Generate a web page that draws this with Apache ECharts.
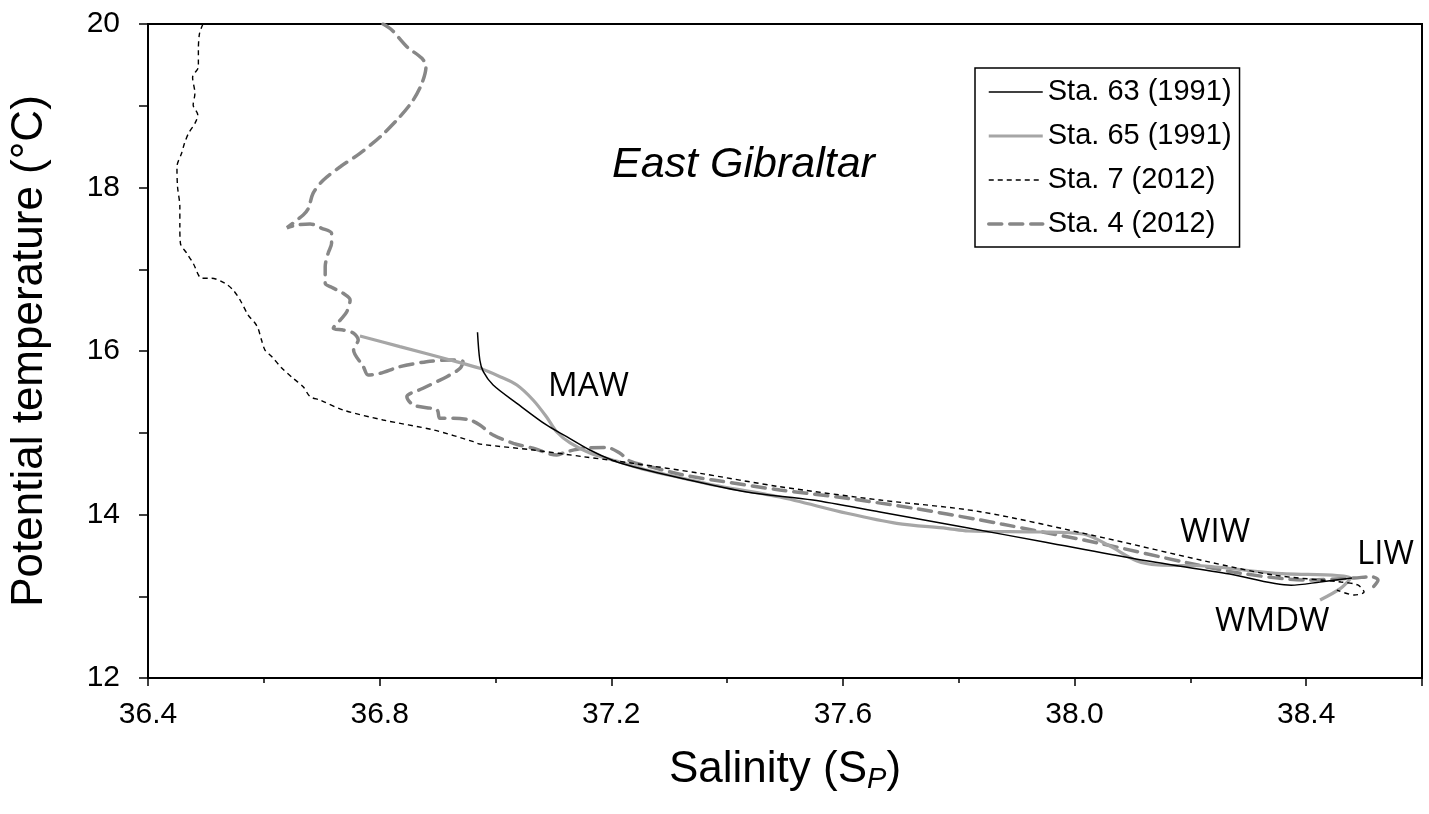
<!DOCTYPE html>
<html>
<head>
<meta charset="utf-8">
<script src="https://cdn.jsdelivr.net/npm/echarts@6/dist/echarts.min.js"></script>
<style>
  html, body { margin: 0; padding: 0; background: #fff; }
  #chart { width: 1429px; height: 814px; }
</style>
</head>
<body>
<div id="chart"></div>
<script>
// Theta-S profiles east of Gibraltar: [salinity, potential temperature]
const sta63_1991 = [
  [36.969, 16.23], [36.973, 15.89], [36.979, 15.747], [36.996, 15.584], [37.037, 15.36],
  [37.088, 15.095], [37.123, 14.952], [37.163, 14.789], [37.203, 14.661], [37.238, 14.585],
  [37.319, 14.447], [37.434, 14.275], [37.548, 14.177], [37.664, 14.03], [37.807, 13.847],
  [37.95, 13.66], [38.106, 13.456], [38.268, 13.272], [38.374, 13.135], [38.424, 13.174],
  [38.479, 13.223]
];
const sta65_1991 = [
  [36.766, 16.183], [36.835, 16.053], [36.922, 15.89], [36.973, 15.788], [37.008, 15.686],
  [37.037, 15.584], [37.065, 15.401], [37.088, 15.196], [37.106, 15.009], [37.129, 14.875],
  [37.163, 14.752], [37.209, 14.654], [37.261, 14.544], [37.353, 14.398], [37.376, 14.361],
  [37.491, 14.214], [37.607, 14.015], [37.693, 13.892], [37.779, 13.831], [37.816, 13.798],
  [37.94, 13.786], [38.015, 13.761], [38.061, 13.614], [38.108, 13.431], [38.144, 13.382],
  [38.225, 13.37], [38.343, 13.284], [38.477, 13.223], [38.46, 13.1], [38.424, 12.954]
];
const sta7_2012 = [
  [36.495, 20.0], [36.489, 19.886], [36.487, 19.682], [36.487, 19.478], [36.477, 19.348],
  [36.481, 19.152], [36.478, 19.009], [36.486, 18.887], [36.481, 18.785], [36.47, 18.663],
  [36.463, 18.541], [36.458, 18.418], [36.45, 18.254], [36.451, 18.01], [36.455, 17.765],
  [36.455, 17.52], [36.456, 17.317], [36.467, 17.195], [36.478, 17.073], [36.493, 16.889],
  [36.51, 16.889], [36.533, 16.828], [36.547, 16.746], [36.559, 16.624], [36.573, 16.44],
  [36.585, 16.339], [36.59, 16.278], [36.596, 16.135], [36.602, 16.012], [36.614, 15.93],
  [36.631, 15.792], [36.65, 15.67], [36.668, 15.563], [36.68, 15.441], [36.697, 15.401],
  [36.737, 15.278], [36.806, 15.156], [36.893, 15.034], [36.962, 14.891], [36.973, 14.862],
  [37.065, 14.789], [37.152, 14.707], [37.238, 14.626], [37.353, 14.504], [37.491, 14.34],
  [37.664, 14.177], [37.837, 14.034], [38.049, 13.717], [38.225, 13.431], [38.343, 13.26],
  [38.46, 13.174], [38.489, 13.138], [38.5, 13.052], [38.483, 13.015], [38.453, 13.076]
];
const sta4_2012 = [
  [36.806, 20.0], [36.821, 19.927], [36.847, 19.722], [36.873, 19.58], [36.88, 19.478],
  [36.873, 19.275], [36.858, 19.07], [36.835, 18.866], [36.801, 18.621], [36.766, 18.418],
  [36.732, 18.254], [36.703, 18.092], [36.685, 17.929], [36.677, 17.746], [36.668, 17.664],
  [36.64, 17.508], [36.657, 17.541], [36.68, 17.554], [36.7, 17.501], [36.717, 17.44],
  [36.717, 17.317], [36.711, 17.195], [36.706, 17.031], [36.706, 16.828], [36.717, 16.779],
  [36.737, 16.706], [36.749, 16.624], [36.743, 16.477], [36.732, 16.379], [36.72, 16.278],
  [36.737, 16.257], [36.755, 16.217], [36.763, 16.135], [36.755, 16.012], [36.772, 15.808],
  [36.78, 15.706], [36.801, 15.727], [36.835, 15.808], [36.881, 15.869], [36.922, 15.89],
  [36.944, 15.869], [36.939, 15.788], [36.916, 15.686], [36.875, 15.544], [36.847, 15.441],
  [36.858, 15.34], [36.899, 15.278], [36.904, 15.177], [36.927, 15.177], [36.956, 15.156],
  [36.973, 15.095], [36.996, 14.972], [37.031, 14.871], [37.065, 14.81], [37.106, 14.728],
  [37.123, 14.768], [37.152, 14.81], [37.192, 14.82], [37.215, 14.749], [37.232, 14.654],
  [37.267, 14.585], [37.324, 14.483], [37.376, 14.422], [37.491, 14.3], [37.607, 14.198],
  [37.722, 14.076], [37.837, 13.933], [37.874, 13.884], [38.038, 13.655], [38.196, 13.407],
  [38.284, 13.284], [38.401, 13.199], [38.483, 13.223], [38.512, 13.24], [38.524, 13.199],
  [38.507, 13.052]
];

const stationNames = ['Sta. 63 (1991)', 'Sta. 65 (1991)', 'Sta. 7 (2012)', 'Sta. 4 (2012)'];
const xTickLabels = ['36.4', '36.8', '37.2', '37.6', '38.0', '38.4'];
const yTickLabels = ['12', '14', '16', '18', '20'];

const FONT = '"Liberation Sans", Arial, sans-serif';
const ANNOT_FONT = '"Open Sans", "Noto Sans", sans-serif';

const chart = echarts.init(document.getElementById('chart'), null, { renderer: 'canvas' });

const axisLine = { show: true, lineStyle: { color: '#000', width: 2 } };

chart.setOption({
  animation: false,
  backgroundColor: '#fff',
  grid: {
    left: 148, right: 7, top: 24, bottom: 136,
    show: true, borderColor: '#000', borderWidth: 2, backgroundColor: 'transparent'
  },
  legend: {
    orient: 'vertical',
    left: 975, top: 68,
    padding: [9, 8, 8, 12],
    borderColor: '#000', borderWidth: 1.5,
    backgroundColor: '#fff',
    itemWidth: 54, itemHeight: 14, itemGap: 14,
    itemStyle: { opacity: 0 },
    lineStyle: { width: 'inherit', type: 'inherit' },
    textStyle: { fontFamily: FONT, fontSize: 29, color: '#000', lineHeight: 30 },
    data: stationNames
  },
  xAxis: [
    {
      type: 'value', min: 36.4, max: 38.6, interval: 0.2, position: 'bottom',
      axisLine: axisLine,
      axisTick: { show: true, inside: false, length: 5, lineStyle: { color: '#000', width: 1.5 } },
      axisLabel: { show: false },
      splitLine: { show: false }
    },
    {
      type: 'value', min: 36.4, max: 38.6, interval: 0.4, position: 'bottom',
      axisLine: { show: false },
      axisTick: { show: true, inside: false, length: 8, lineStyle: { color: '#000', width: 1.5 } },
      axisLabel: {
        show: true, margin: 22, fontFamily: FONT, fontSize: 30, color: '#000',
        formatter: v => { const s = v.toFixed(1); return xTickLabels.includes(s) ? s : ''; }
      },
      splitLine: { show: false },
      name: '{a|Salinity (S}{sub|P}{a|)}',
      nameLocation: 'middle', nameGap: 68,
      nameTextStyle: {
        rich: {
          a: { fontFamily: FONT, fontSize: 44, color: '#000', lineHeight: 48 },
          sub: { fontFamily: FONT, fontSize: 29, fontStyle: 'italic', color: '#000',
                 lineHeight: 29, padding: [15, 0, 0, 0], verticalAlign: 'bottom' }
        }
      }
    }
  ],
  yAxis: {
    type: 'value', min: 12, max: 20, interval: 1,
    axisLine: axisLine,
    axisTick: { show: true, inside: false, length: 9, lineStyle: { color: '#000', width: 1.5 } },
    axisLabel: {
      margin: 28, fontFamily: FONT, fontSize: 30, color: '#000',
      formatter: v => { const s = String(Math.round(v)); return yTickLabels.includes(s) ? s : ''; }
    },
    splitLine: { show: false },
    name: 'Potential temperature (°C)',
    nameLocation: 'middle', nameGap: 96, nameRotate: 90,
    nameTextStyle: { fontFamily: FONT, fontSize: 44, color: '#000' }
  },
  series: [
    {
      name: stationNames[3], type: 'line', data: sta4_2012, xAxisIndex: 0,
      showSymbol: false, symbol: 'none', smooth: 0.3, z: 2,
      lineStyle: { color: '#878787', width: 3.5, type: [13, 8], cap: 'round' },
      itemStyle: { color: '#878787' }
    },
    {
      name: stationNames[1], type: 'line', data: sta65_1991, xAxisIndex: 0,
      showSymbol: false, symbol: 'none', smooth: 0.3, z: 3,
      lineStyle: { color: '#a6a6a6', width: 3.2 },
      itemStyle: { color: '#a6a6a6' }
    },
    {
      name: stationNames[2], type: 'line', data: sta7_2012, xAxisIndex: 0,
      showSymbol: false, symbol: 'none', smooth: 0.3, z: 4,
      lineStyle: { color: '#000', width: 1.4, type: [5, 4] },
      itemStyle: { color: '#000' }
    },
    {
      name: stationNames[0], type: 'line', data: sta63_1991, xAxisIndex: 0,
      showSymbol: false, symbol: 'none', smooth: 0.3, z: 5,
      lineStyle: { color: '#000', width: 1.5 },
      itemStyle: { color: '#000' }
    }
  ],
  graphic: [
    { type: 'text', left: 612, top: 144,
      style: { text: 'East Gibraltar', font: 'italic 43px ' + FONT, fill: '#000' } },
    { type: 'text', left: 548, top: 370,
      style: { text: 'MAW', font: '33px ' + ANNOT_FONT, fill: '#000' } },
    { type: 'text', left: 1180, top: 516,
      style: { text: 'WIW', font: '33px ' + ANNOT_FONT, fill: '#000' } },
    { type: 'text', left: 1357, top: 538,
      style: { text: 'LIW', font: '33px ' + ANNOT_FONT, fill: '#000' } },
    { type: 'text', left: 1215, top: 605,
      style: { text: 'WMDW', font: '33px ' + ANNOT_FONT, fill: '#000' } }
  ]
});
</script>
</body>
</html>
